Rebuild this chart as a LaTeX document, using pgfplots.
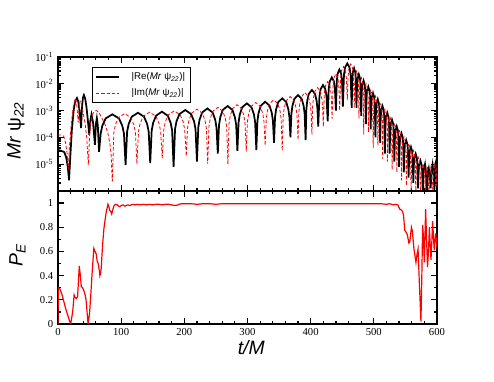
\documentclass[border=0pt]{standalone}
\usepackage{fontspec}
\setmainfont{Liberation Serif}
\newfontfamily\hv{Liberation Sans}
\usepackage{pgfplots}
\pgfplotsset{compat=1.18}

\pgfplotsset{
  panel/.style={
    scale only axis, width=284.25pt,
    xmin=0, xmax=600,
    xtick={0,100,...,600}, minor x tick num=4,
    tick align=inside,
    major tick length=4.5pt, minor tick length=2.6pt,
    axis line style={line width=1.1pt},
    every tick/.style={black, line width=0.9pt},
    /pgf/number format/assume math mode=true,
    tick label style={font=\fontsize{8}{9}\selectfont},
    label style={font=\hv\itshape\fontsize{14.5}{16}\selectfont},
  },
}

\begin{document}
\begin{tikzpicture}
\useasboundingbox (0,0) rectangle (370.5pt,286.5pt);

% top panel: |Re| and |Im| of Mr psi_22
\begin{axis}[panel,
  at={(43.5pt,143.25pt)}, anchor=south west,
  height=100.5pt,
  ymode=log, ymin=1e-6, ymax=1e-1,
  ytick={1e-6,1e-5,1e-4,1e-3,1e-2,1e-1},
  yticklabels={,10\textsuperscript{-5},10\textsuperscript{-4},10\textsuperscript{-3},10\textsuperscript{-2},10\textsuperscript{-1}},
  minor ytick={2e-6,3e-6,4e-6,5e-6,6e-6,7e-6,8e-6,9e-6,
    2e-5,3e-5,4e-5,5e-5,6e-5,7e-5,8e-5,9e-5,
    2e-4,3e-4,4e-4,5e-4,6e-4,7e-4,8e-4,9e-4,
    2e-3,3e-3,4e-3,5e-3,6e-3,7e-3,8e-3,9e-3,
    2e-2,3e-2,4e-2,5e-2,6e-2,7e-2,8e-2,9e-2},
  xticklabels={},
  ylabel={Mr {\upshape ψ}\textsubscript{22}},
  ylabel style={at={(axis description cs:-0.087,0.45)}, anchor=south, inner sep=0pt},
  legend style={at={(axis description cs:0.09,0.925)}, anchor=north west,
    draw=black, line width=0.6pt, font=\hv\fontsize{7.3}{8.5}\selectfont,
    inner xsep=2pt, inner ysep=2pt, row sep=1pt,
    /tikz/every odd column/.append style={column sep=7pt}},
  legend cell align=left,
]
\addplot[black, line width=1.3pt] coordinates {
(0,3.39e-5) (5,3.16e-5) (10,2.82e-5) (13,1.78e-5) (15.5,7.94e-6) (17.5,2.51e-6) (19.5,2.0e-5)
(22,2.0e-4) (25,1.12e-3) (27.5,2.4e-3) (30,2.95e-3) (32,2.24e-3) (34,1.0e-3) (36.5,2.24e-4)
(38,1.41e-3) (39.5,3.02e-3) (41,3.8e-3) (43,2.82e-3) (45,1.41e-3) (47,5.0e-4) (49.5,1.26e-4)
(51,3.98e-4) (53,7.08e-4) (55.5,3.55e-4) (58.5,5.25e-5) (60,3.16e-4) (61.5,5.25e-4) (63,2.82e-4) (65,2.88e-5)
(67.6,1.41e-4) (70.25,2.75e-4) (75.5,5.13e-4) (86,7.24e-4) (96.5,5.13e-4) (101.75,2.75e-4) (104.4,1.41e-4) (107,9.33e-6)
(109.4,1.62e-4) (111.9,3.16e-4) (116.75,5.89e-4) (126.5,8.32e-4) (136.25,5.89e-4) (141.1,3.16e-4) (143.6,1.62e-4) (146,1.1e-5)
(148.3,1.78e-4) (150.6,3.47e-4) (155.25,6.46e-4) (164.5,9.12e-4) (173.75,6.46e-4) (178.4,3.47e-4) (180.7,1.78e-4) (183,7.94e-6)
(185.3,2.04e-4) (187.6,3.98e-4) (192.25,7.41e-4) (201.5,1.05e-3) (210.75,7.41e-4) (215.4,3.98e-4) (217.7,2.04e-4) (220,1.26e-5)
(222.1,2.34e-4) (224.1,4.57e-4) (228.25,8.51e-4) (236.5,1.2e-3) (244.75,8.51e-4) (248.9,4.57e-4) (250.9,2.34e-4) (253,2.51e-5)
(254.9,2.88e-4) (256.9,5.62e-4) (260.75,1.05e-3) (268.5,1.48e-3) (276.25,1.05e-3) (280.1,5.62e-4) (282.1,2.88e-4) (284,3.16e-5)
(285.9,3.63e-4) (287.75,7.08e-4) (291.5,1.32e-3) (299,1.86e-3) (306.5,1.32e-3) (310.25,7.08e-4) (312.1,3.63e-4) (314,3.39e-5)
(315.75,4.17e-4) (317.5,8.13e-4) (321,1.51e-3) (328,2.14e-3) (335,1.51e-3) (338.5,8.13e-4) (340.25,4.17e-4) (342,6.31e-5)
(343.6,5.62e-4) (345.25,1.1e-3) (348.5,2.04e-3) (355,2.88e-3) (361.5,2.04e-3) (364.75,1.1e-3) (366.4,5.62e-4) (368,1.0e-4)
(369.5,7.41e-4) (371,1.45e-3) (374,2.69e-3) (380,3.8e-3) (386,2.69e-3) (389,1.45e-3) (390.5,7.41e-4) (392,7.94e-5)
(393.25,1.15e-3) (394.5,2.24e-3) (397,4.17e-3) (402,5.89e-3) (407,4.17e-3) (409.5,2.24e-3) (410.75,1.15e-3) (412,2.51e-4)
(413.9,3.39e-3) (415.75,6.31e-3) (419.5,8.91e-3) (423.25,6.31e-3) (425.1,3.39e-3) (427,3.98e-4)
(428.6,6.61e-3) (430.25,1.23e-2) (433.5,1.74e-2) (436.75,1.23e-2) (438.4,6.61e-3) (440,1.0e-3)
(441.4,1.29e-2) (442.75,2.4e-2) (445.5,3.39e-2) (448.25,2.4e-2) (449.6,1.29e-2) (451,1.41e-3)
(452.75,2.19e-2) (454.5,4.07e-2) (458,5.75e-2) (461.5,4.07e-2) (463.25,2.19e-2) (465,1.26e-3)
(465.9,1.45e-2) (466.9,2.69e-2) (468.75,3.8e-2) (470.6,2.69e-2) (471.6,1.45e-2) (472.5,1.26e-3)
(473.4,8.51e-3) (474.4,1.58e-2) (476.25,2.24e-2) (478.1,1.58e-2) (479.1,8.51e-3) (480,6.31e-4)
(480.9,5.01e-3) (481.9,9.33e-3) (483.75,1.32e-2) (485.6,9.33e-3) (486.6,5.01e-3) (487.5,3.16e-4)
(488.4,2.95e-3) (489.4,5.5e-3) (491.25,7.76e-3) (493.1,5.5e-3) (494.1,2.95e-3) (495,2.0e-4)
(495.9,1.7e-3) (496.9,3.16e-3) (498.75,4.47e-3) (500.6,3.16e-3) (501.6,1.7e-3) (502.5,1.0e-4)
(503.4,1.0e-3) (504.4,1.86e-3) (506.25,2.63e-3) (508.1,1.86e-3) (509.1,1.0e-3) (510,6.31e-5)
(510.9,5.62e-4) (511.9,1.05e-3) (513.75,1.48e-3) (515.6,1.05e-3) (516.6,5.62e-4) (517.5,2.51e-5)
(518.4,3.16e-4) (519.4,5.89e-4) (521.25,8.32e-4) (523.1,5.89e-4) (524.1,3.16e-4) (525,2.51e-5)
(525.9,1.74e-4) (526.9,3.24e-4) (528.75,4.57e-4) (530.6,3.24e-4) (531.6,1.74e-4) (532.5,1.26e-5)
(533.4,9.77e-5) (534.4,1.82e-4) (536.25,2.57e-4) (538.1,1.82e-4) (539.1,9.77e-5) (540,7.94e-6)
(540.9,5.37e-5) (541.9,1.0e-4) (543.75,1.41e-4) (545.6,1.0e-4) (546.6,5.37e-5) (547.5,5.01e-6)
(548.4,3.02e-5) (549.4,5.62e-5) (551.25,7.94e-5) (553.1,5.62e-5) (554.1,3.02e-5) (555,3.16e-6)
(555.9,1.66e-5) (556.9,3.09e-5) (558.75,4.37e-5) (560.6,3.09e-5) (561.6,1.66e-5) (562.5,2.0e-6)
(563.4,9.33e-6) (564.4,1.74e-5) (566.25,2.45e-5) (568.1,1.74e-5) (569.1,9.33e-6) (570,1.26e-6)
(570.9,5.13e-6) (571.9,9.55e-6) (573.75,1.35e-5) (575.6,9.55e-6) (576.6,5.13e-6) (577.5,7.94e-7)
(579,6.31e-6) (581,1.0e-5) (582.5,5.01e-6) (584,6.31e-7) (585.5,5.01e-6) (587,7.08e-6) (588.5,3.98e-6)
(590,1.26e-6) (591.5,6.31e-6) (593,1.0e-5) (594.5,5.01e-6) (596,1.0e-6) (597.5,1.0e-5) (599,1.41e-5) (600,1.12e-5)
};
\addlegendentry{|Re(\textit{Mr} ψ\textsubscript{\textit{22}})|}
\addplot[red, line width=0.6pt, dash pattern=on 2.5pt off 1.5pt] coordinates {
(0,1.23e-4) (5,1.23e-4) (9,1.12e-4) (12,6.31e-5) (14.5,2.51e-5) (16.3,6.31e-6) (18,3.98e-5)
(21,3.16e-4) (24,1.26e-3) (26,2.24e-3) (28,2.82e-3) (30,1.41e-3) (32,3.55e-4) (33.5,1.26e-3)
(35,2.24e-3) (37,1.78e-3) (40,7.94e-4) (43,3.16e-4) (45.5,1.0e-4) (48,9.33e-6)
(50,1.26e-4) (52,3.98e-4) (55,7.59e-4) (58,9.55e-4) (61,1.0e-3) (65,8.32e-4) (70,5.01e-4)
(75,2.82e-4) (79,1.41e-4) (82,6.31e-5) (84,2.51e-5) (86,2.24e-6)
(88.4,1.51e-4) (90.9,2.95e-4) (95.75,5.5e-4) (105.5,7.76e-4) (115.25,5.5e-4) (120.1,2.95e-4) (122.6,1.51e-4) (125,1.0e-5)
(127.5,1.7e-4) (130,3.31e-4) (135,6.17e-4) (145,8.71e-4) (155,6.17e-4) (160,3.31e-4) (162.5,1.7e-4) (165,1.66e-5)
(167.4,1.91e-4) (169.75,3.72e-4) (174.5,6.92e-4) (184,9.77e-4) (193.5,6.92e-4) (198.25,3.72e-4) (200.6,1.91e-4) (203,2.0e-5)
(205.1,2.19e-4) (207.25,4.27e-4) (211.5,7.94e-4) (220,1.12e-3) (228.5,7.94e-4) (232.75,4.27e-4) (234.9,2.19e-4) (237,1.0e-5)
(239,2.57e-4) (241,5.01e-4) (245,9.33e-4) (253,1.32e-3) (261,9.33e-4) (265,5.01e-4) (267,2.57e-4) (269,1.0e-5)
(270.8,3.24e-4) (272.6,6.31e-4) (276.25,1.17e-3) (283.5,1.66e-3) (290.75,1.17e-3) (294.4,6.31e-4) (296.2,3.24e-4) (298,2.95e-5)
(299.9,3.89e-4) (301.75,7.59e-4) (305.5,1.41e-3) (313,2.0e-3) (320.5,1.41e-3) (324.25,7.59e-4) (326.1,3.89e-4) (328,5.01e-5)
(329.7,4.9e-4) (331.4,9.55e-4) (334.75,1.78e-3) (341.5,2.51e-3) (348.25,1.78e-3) (351.6,9.55e-4) (353.3,4.9e-4) (355,3.16e-5)
(356.6,6.46e-4) (358.1,1.26e-3) (361.25,2.34e-3) (367.5,3.31e-3) (373.75,2.34e-3) (376.9,1.26e-3) (378.4,6.46e-4) (380,7.94e-5)
(381.4,9.12e-4) (382.75,1.78e-3) (385.5,3.31e-3) (391,4.68e-3) (396.5,3.31e-3) (399.25,1.78e-3) (400.6,9.12e-4) (402,1.26e-4)
(403.1,1.41e-3) (404.25,2.75e-3) (406.5,5.13e-3) (411,7.24e-3) (415.5,5.13e-3) (417.75,2.75e-3) (418.9,1.41e-3) (420,2.51e-4)
(421.75,4.57e-3) (423.5,8.51e-3) (427,1.2e-2) (430.5,8.51e-3) (432.25,4.57e-3) (434,5.01e-4)
(435.5,9.12e-3) (437,1.7e-2) (440,2.4e-2) (443,1.7e-2) (444.5,9.12e-3) (446,1.0e-3)
(447.5,1.66e-2) (449,3.09e-2) (452,4.37e-2) (455,3.09e-2) (456.5,1.66e-2) (458,2.51e-3)
(459.4,2.09e-2) (460.75,3.89e-2) (463.5,5.5e-2) (466.25,3.89e-2) (467.6,2.09e-2) (469,1.26e-3)
(469.9,1.12e-2) (470.9,2.09e-2) (472.75,2.95e-2) (474.6,2.09e-2) (475.6,1.12e-2) (476.5,5.01e-4)
(477.4,6.46e-3) (478.4,1.2e-2) (480.25,1.7e-2) (482.1,1.2e-2) (483.1,6.46e-3) (484,1.26e-4)
(484.9,3.8e-3) (485.9,7.08e-3) (487.75,1.0e-2) (489.6,7.08e-3) (490.6,3.8e-3) (491.5,1.58e-4)
(492.4,2.24e-3) (493.4,4.17e-3) (495.25,5.89e-3) (497.1,4.17e-3) (498.1,2.24e-3) (499,3.98e-5)
(499.9,1.32e-3) (500.9,2.45e-3) (502.75,3.47e-3) (504.6,2.45e-3) (505.6,1.32e-3) (506.5,5.01e-5)
(507.4,7.59e-4) (508.4,1.41e-3) (510.25,2.0e-3) (512.1,1.41e-3) (513.1,7.59e-4) (514,1.58e-5)
(514.9,4.17e-4) (515.9,7.76e-4) (517.75,1.1e-3) (519.6,7.76e-4) (520.6,4.17e-4) (521.5,1.26e-5)
(522.4,2.34e-4) (523.4,4.37e-4) (525.25,6.17e-4) (527.1,4.37e-4) (528.1,2.34e-4) (529,6.31e-6)
(529.9,1.29e-4) (530.9,2.4e-4) (532.75,3.39e-4) (534.6,2.4e-4) (535.6,1.29e-4) (536.5,5.01e-6)
(537.4,7.24e-5) (538.4,1.35e-4) (540.25,1.91e-4) (542.1,1.35e-4) (543.1,7.24e-5) (544,2.51e-6)
(544.9,3.98e-5) (545.9,7.41e-5) (547.75,1.05e-4) (549.6,7.41e-5) (550.6,3.98e-5) (551.5,1.58e-6)
(552.4,2.24e-5) (553.4,4.17e-5) (555.25,5.89e-5) (557.1,4.17e-5) (558.1,2.24e-5) (559,7.94e-7)
(559.9,1.23e-5) (560.9,2.29e-5) (562.75,3.24e-5) (564.6,2.29e-5) (565.6,1.23e-5) (566.5,7.94e-7)
(567.4,6.92e-6) (568.4,1.29e-5) (570.25,1.82e-5) (572.1,1.29e-5) (573.1,6.92e-6) (574,6.31e-7)
(574.9,3.98e-6) (575.9,7.41e-6) (577.75,1.05e-5) (579.6,7.41e-6) (580.6,3.98e-6) (581.5,6.31e-7)
(583,5.01e-6) (584.5,8.91e-6) (586,3.16e-6) (587.5,7.94e-7) (589,5.62e-6) (590.5,7.94e-6) (592,2.51e-6)
(593.5,1.0e-6) (595,7.94e-6) (596.5,1.12e-5) (598,3.98e-6) (599,1.58e-6) (600,1.0e-5)
};
\addlegendentry{|Im(\textit{Mr} ψ\textsubscript{\textit{22}})|}
\end{axis}

% bottom panel: P_E
\begin{axis}[panel,
  at={(43.5pt,43.5pt)}, anchor=south west,
  height=99.75pt,
  ymin=0, ymax=1.1,
  ytick={0,0.2,0.4,0.6,0.8,1}, minor y tick num=1,
  ylabel={P\textsubscript{E}},
  ylabel style={at={(axis description cs:-0.085,0.52)}, anchor=south, inner sep=0pt},
  xlabel={t/M},
  xlabel style={at={(axis description cs:0.51,-0.233)}, anchor=base, inner sep=0pt},
]
\addplot[red, line width=0.9pt] coordinates {
(0,0) (0.5,0.3) (3,0.29) (6,0.25) (9,0.19) (12,0.13) (15,0.08) (18,0.03) (20,0.0) (22,0.06)
(23.5,0.115) (25.5,0.24) (27,0.22) (29,0.21) (31,0.225) (33.7,0.48) (35,0.42) (36.9,0.31)
(39,0.3) (40.6,0.28) (43,0.24) (44.4,0.2) (46,0.1) (47.6,0.0) (50,0.09) (52,0.25) (54,0.42)
(56.7,0.625) (58.5,0.6) (60.4,0.58) (62,0.52) (63.6,0.5) (65.5,0.44) (66.3,0.4) (67.5,0.42)
(68.4,0.46) (70.5,0.65) (72.7,0.79) (74.5,0.86) (76.5,0.93) (79.1,0.99) (80.5,0.97) (81.8,0.94)
(83.5,0.93) (85,0.91) (87,0.95) (88.8,0.98) (91,0.99) (94,0.985) (96,0.975) (98,0.97) (100,0.98)
(103,0.985) (106,0.975) (110,0.985) (114,0.98) (118,0.99) (122,0.985) (126,0.99) (130,0.985)
(135,0.99) (140,0.985) (145,0.99) (150,0.985) (155,0.99) (160,0.99) (165,0.985) (170,0.99)
(175,0.99) (180,0.985) (185,0.98) (190,0.985) (195,0.995) (200,0.995) (210,0.995) (220,0.99)
(230,0.995) (240,0.995) (250,0.99) (260,0.995) (280,0.995) (300,0.995) (350,0.995) (400,0.995)
(450,0.995) (500,0.995) (510,0.995) (520,0.99) (525,0.995) (528,0.99) (531,0.985) (534,0.99)
(538,0.985) (541,0.95) (543,0.945) (545.6,0.93) (547,0.9) (549,0.775) (551,0.76) (553,0.74)
(555.5,0.67) (557,0.68) (559.5,0.8) (561,0.77) (563.5,0.62) (565,0.57) (566.7,0.51) (568.5,0.58)
(570,0.62) (572,0.35) (574.6,0.02) (576,0.4) (577.3,0.82) (578.5,0.72) (580,0.51) (582,0.95)
(583.5,0.7) (585,0.47) (586.5,0.6) (588,0.8) (589,0.68) (590.5,0.53) (592,0.7) (593,0.85)
(594.5,0.72) (595.6,0.61) (597,0.7) (598,0.75) (600,0.63)
};
\end{axis}
\end{tikzpicture}
\end{document}
